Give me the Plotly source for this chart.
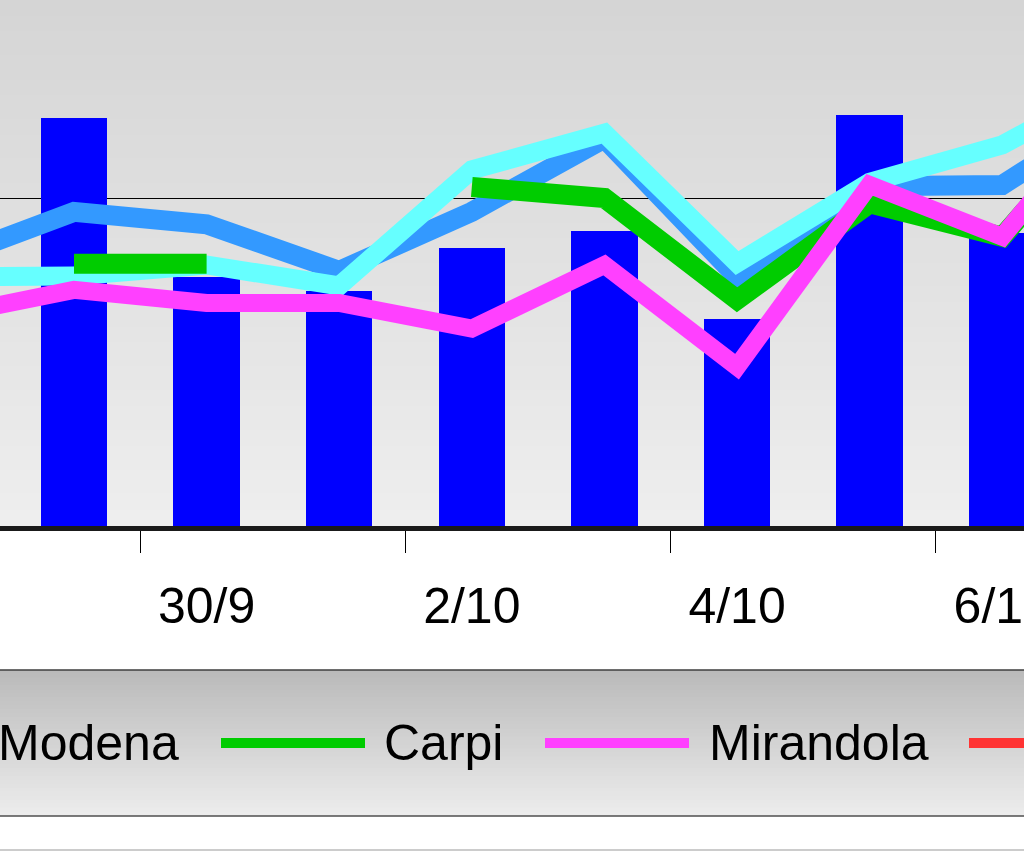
import plotly.graph_objects as go

# ---- data (y in µg/m³-like units, 50 = reference line) ----
dates = ["28/9", "29/9", "30/9", "1/10", "2/10", "3/10", "4/10", "5/10", "6/10", "7/10"]
bar_vals = [None, 62.2, 38.0, 35.9, 42.4, 45.0, 31.5, 62.6, 44.7, None]
serie_azzurra = [40.3, 47.9, 46.0, 38.9, 47.9, 59.1, 38.0, 51.8, 52.0, 64.9]
modena = [38.0, 38.1, 39.8, 36.6, 54.3, 59.9, 40.1, 52.4, 58.1, 69.1]
carpi = [None, 40.0, 40.0, None, 51.7, 50.0, 34.5, 49.2, 44.1, 67.2]
mirandola = [31.9, 36.0, 34.0, 34.0, 30.1, 39.8, 24.3, 52.0, 44.1, 68.8]
legend_labels = ["Modena", "Carpi", "Mirandola"]

W, H = 1024, 852
PLOT_BOTTOM = 526  # pixel row of the plot bottom


def py(px):
    """pixel row -> paper y"""
    return (PLOT_BOTTOM - px) / PLOT_BOTTOM


def px_x(px):
    return px / W


def hexcol(c):
    return "#%02x%02x%02x" % c


def bands(y0, y1, c0, c1, n):
    out = []
    for k in range(n):
        t = k / (n - 1)
        g = tuple(round(c0[j] + (c1[j] - c0[j]) * t) for j in range(3))
        a = y0 + (y1 - y0) * k / n
        b = y0 + (y1 - y0) * (k + 1) / n
        out.append(dict(type="rect", xref="paper", yref="paper",
                        x0=-0.01, x1=1.01, y0=py(b) - 0.001, y1=py(a) + 0.001,
                        fillcolor=hexcol(g), line=dict(width=0), layer="below"))
    return out


fig = go.Figure()
fig.add_trace(go.Bar(x=dates, y=bar_vals, marker=dict(color="#0000ff", line=dict(width=0)),
                     width=0.5, name="barre", showlegend=False))
fig.add_trace(go.Scatter(x=dates, y=serie_azzurra, mode="lines", line=dict(color="#3399ff", width=20),
                         showlegend=False, name="serie"))
fig.add_trace(go.Scatter(x=dates, y=modena, mode="lines", line=dict(color="#66ffff", width=19),
                         showlegend=False, name="Modena"))
fig.add_trace(go.Scatter(x=dates, y=carpi, mode="lines", line=dict(color="#00cc00", width=20),
                         connectgaps=False, showlegend=False, name="Carpi"))
fig.add_trace(go.Scatter(x=dates, y=mirandola, mode="lines", line=dict(color="#ff40ff", width=18),
                         showlegend=False, name="Mirandola"))

shapes = []
# plot background gradient
shapes += bands(0, PLOT_BOTTOM, (213, 213, 213), (238, 238, 238), 66)
# legend box gradient
shapes += bands(670, 816, (186, 186, 186), (236, 236, 236), 37)
for yy, col in [(670, "#000000"), (816, "#000000"), (850, "#999999")]:
    shapes.append(dict(type="line", xref="paper", yref="paper", x0=-0.01, x1=1.01,
                       y0=py(yy), y1=py(yy), line=dict(color=col, width=1), layer="above"))
# legend line samples
for x0, x1, col in [(221, 365, "#00cc00"), (545, 689, "#ff40ff"), (969, 1113, "#ff3333")]:
    shapes.append(dict(type="line", xref="paper", yref="paper", x0=px_x(x0), x1=px_x(x1),
                       y0=py(743), y1=py(743), line=dict(color=col, width=10), layer="above"))

font = dict(family="Liberation Sans, Arial, sans-serif", size=50, color="#000000")
annotations = [
    dict(text=legend_labels[0], xref="paper", yref="paper", x=px_x(181), y=py(743),
         xanchor="right", yanchor="middle", showarrow=False, font=font),
    dict(text=legend_labels[1], xref="paper", yref="paper", x=px_x(382), y=py(743),
         xanchor="left", yanchor="middle", showarrow=False, font=font),
    dict(text=legend_labels[2], xref="paper", yref="paper", x=px_x(707), y=py(743),
         xanchor="left", yanchor="middle", showarrow=False, font=font),
]

fig.update_layout(
    width=W, height=H,
    margin=dict(l=0, r=0, t=0, b=H - PLOT_BOTTOM, pad=0, autoexpand=False),
    paper_bgcolor="#ffffff", plot_bgcolor="rgba(0,0,0,0)",
    showlegend=False, bargap=0,
    shapes=shapes, annotations=annotations,
    xaxis=dict(type="category", categoryorder="array", categoryarray=dates,
               range=[0.442, 8.164], tickmode="linear", tick0=0, dtick=2,
               tickson="boundaries", ticks="outside", ticklen=22, tickwidth=1, tickcolor="#000000",
               showline=True, linecolor="#1a1a1a", linewidth=5, showgrid=False,
               tickfont=font, ticklabelstandoff=32, automargin=False, fixedrange=True),
    yaxis=dict(range=[0, 80.2], tickmode="linear", tick0=0, dtick=50,
               showgrid=True, gridcolor="#000000", gridwidth=1, zeroline=False,
               showline=False, showticklabels=False, ticks="", automargin=False,
               fixedrange=True),
)

fig.write_html(
    "out.html",
    config={"displayModeBar": False, "responsive": False},
    post_script=(
        "document.documentElement.style.overflow='hidden';"
        "document.body.style.overflow='hidden';"
        "document.body.style.margin='0';"
    ),
)
